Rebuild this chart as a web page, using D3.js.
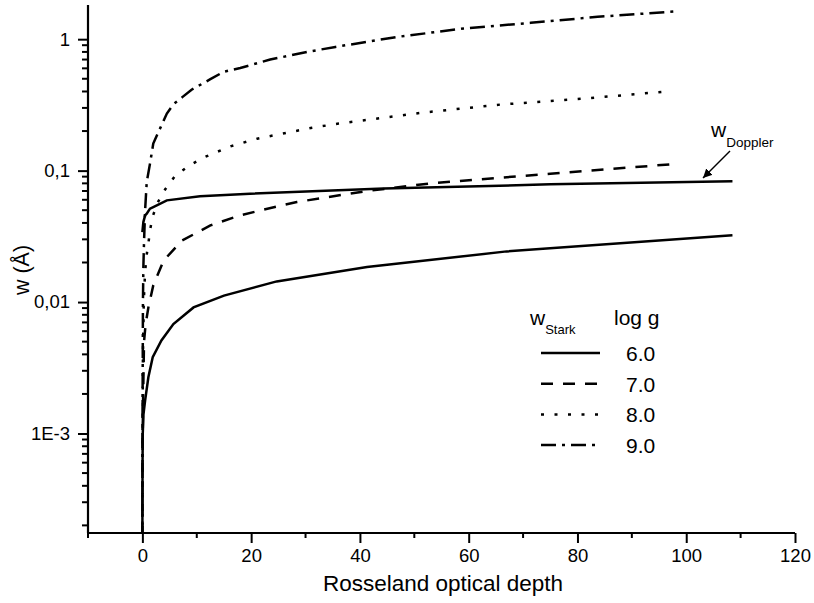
<!DOCTYPE html>
<html>
<head>
<meta charset="utf-8">
<script src="https://cdn.jsdelivr.net/npm/d3@7"></script>
<style>
  body { margin: 0; background: #fff; }
  svg { font-family: "Liberation Sans", Arial, sans-serif; }
  .line { fill: none; stroke: #000; stroke-width: 2.5; stroke-linecap: butt; }
</style>
</head>
<body>
<div class="container"></div>
<script>
// optical depth grid and widths
const tau60 = [0, 0.01, 0.03, 0.07, 0.2, 0.5, 1.1, 1.9, 3.5, 5.7, 9.4, 15, 24.7, 41.3, 67, 108.5];
const w60 = [1.6e-4, 3e-4, 6e-4, 0.001, 0.0014, 0.00178, 0.00268, 0.0038, 0.0051, 0.0068, 0.0091, 0.0112, 0.01436, 0.01845, 0.0243, 0.0322];

const tau70 = [0, 0.03, 0.1, 0.3, 0.6, 1.1, 2.0, 3.9, 7.3, 12.5, 18, 22.3, 28.4, 41.3, 53.5, 75, 97.2];
const w70 = [1.6e-4, 6e-4, 0.0015, 0.005, 0.0068, 0.0091, 0.0134, 0.0207, 0.0294, 0.0383, 0.0457, 0.0505, 0.0577, 0.070, 0.0805, 0.0948, 0.1117];

const tau80 = [0, 0.03, 0.1, 0.25, 0.5, 0.8, 1.1, 1.4, 1.9, 2.8, 4.2, 6.0, 8.7, 11.2, 16.2, 21.1, 31.2, 36.1, 51.1, 65.8, 81.2, 96.3];
const w80 = [1.6e-4, 1e-3, 0.004, 0.01, 0.017, 0.023, 0.0278, 0.0351, 0.0449, 0.0571, 0.0721, 0.091, 0.1097, 0.1256, 0.153, 0.175, 0.212, 0.228, 0.275, 0.318, 0.353, 0.400];

const tau90 = [0, 0.02, 0.07, 0.1, 0.18, 0.31, 0.5, 0.8, 1.4, 2.0, 3.6, 4.5, 5.7, 7.4, 9.1, 12.5, 14.9, 18, 23.5, 30.3, 35.5, 46.9, 59.1, 71.4, 83.7, 98.7];
const w90 = [1.6e-4, 0.0012, 0.00406, 0.0097, 0.0184, 0.0294, 0.0499, 0.0819, 0.113, 0.1606, 0.2255, 0.2717, 0.32, 0.364, 0.414, 0.496, 0.564, 0.604, 0.700, 0.800, 0.873, 1.041, 1.206, 1.331, 1.479, 1.634];

const tauDop = [0, 0.18, 0.5, 0.8, 1.4, 2.0, 4.5, 10.6, 19.8, 44.4, 75, 108.5];
const wDop = [0.034, 0.0406, 0.0457, 0.047, 0.0514, 0.0528, 0.0594, 0.0637, 0.0668, 0.073, 0.0786, 0.0829];

const logg = ['6.0', '7.0', '8.0', '9.0'];
const xTicks = [0, 20, 40, 60, 80, 100, 120];
const yTicks = [1, 0.1, 0.01, 0.001];
const yTickLabels = ['1', '0,1', '0,01', '1E-3'];

const W = 814, H = 603;
const x = d3.scaleLinear().domain([-10, 120]).range([88, 795]);
const y = d3.scaleLog().domain([1.75e-4, 1.82]).range([533, 5]);

const svg = d3.select('.container').append('svg')
  .attr('width', W)
  .attr('height', H);

svg.append('defs').append('clipPath').attr('id', 'plot')
  .append('rect')
  .attr('x', 88).attr('y', 5)
  .attr('width', 795 - 88).attr('height', 528);

// dash styles for each log g
const dashes = [null, '12,10', '3,10.5', '15,6,3,6'];
const series = [
  { t: tau60, w: w60 },
  { t: tau70, w: w70 },
  { t: tau80, w: w80 },
  { t: tau90, w: w90 },
];

const line = d3.line()
  .x(d => x(d[0]))
  .y(d => y(d[1]));

const g = svg.append('g').attr('clip-path', 'url(#plot)');

series.forEach((s, i) => {
  g.append('path')
    .datum(d3.zip(s.t, s.w))
    .attr('class', 'line')
    .attr('stroke-dasharray', dashes[i])
    .attr('d', line);
});

g.append('path')
  .datum(d3.zip(tauDop, wDop))
  .attr('class', 'line')
  .attr('d', line);

// x axis
const xMinor = d3.range(-10, 121, 10).filter(v => !xTicks.includes(v));
const xAxis = svg.append('g').attr('transform', `translate(0,${533})`);
xAxis.call(d3.axisBottom(x).tickValues(xTicks).tickSize(10).tickPadding(6).tickSizeOuter(0));
xMinor.forEach(v => {
  xAxis.append('line')
    .attr('x1', x(v)).attr('x2', x(v))
    .attr('y1', 0).attr('y2', 5)
    .attr('stroke', '#000').attr('stroke-width', 2);
});

// y axis
const yMinor = [];
[1e-4, 1e-3, 1e-2, 1e-1].forEach(dec => {
  for (let k = 2; k <= 9; k++) {
    const v = dec * k;
    if (v >= 1.75e-4 && v <= 1.82) yMinor.push(v);
  }
});
const yAxis = svg.append('g').attr('transform', `translate(${88},0)`);
yAxis.call(d3.axisLeft(y).tickValues(yTicks).tickSize(10).tickPadding(8).tickSizeOuter(0)
  .tickFormat((d, i) => yTickLabels[i]));
yMinor.forEach(v => {
  yAxis.append('line')
    .attr('x1', -6).attr('x2', 0)
    .attr('y1', y(v)).attr('y2', y(v))
    .attr('stroke', '#000').attr('stroke-width', 2);
});

svg.selectAll('.domain').attr('stroke-width', 2.2);
svg.selectAll('.tick line').attr('stroke-width', 2);
svg.selectAll('.tick text').attr('font-size', 18.5).attr('fill', '#000');
xAxis.selectAll('.domain').attr('d', `M${x(-10)},0H${x(120)}`);
yAxis.selectAll('.domain').attr('d', `M0,${y(1.75e-4)}V${y(1.82)}`);

// axis titles
svg.append('text')
  .attr('x', 443).attr('y', 591)
  .attr('text-anchor', 'middle')
  .attr('font-size', 22.5)
  .text('Rosseland optical depth');

svg.append('text')
  .attr('transform', 'translate(29,270) rotate(-90)')
  .attr('text-anchor', 'middle')
  .attr('font-size', 21.5)
  .text('w (Å)');

// legend
const leg = svg.append('g');
const wStark = leg.append('text').attr('x', 530).attr('y', 325).attr('font-size', 21);
wStark.append('tspan').text('w');
wStark.append('tspan').attr('font-size', 13).attr('dy', 9).text('Stark');
leg.append('text').attr('x', 614).attr('y', 325).attr('font-size', 21).text('log g');

logg.forEach((lab, i) => {
  const ly = 353 + i * 30.7;
  leg.append('line')
    .attr('class', 'line')
    .attr('x1', 541).attr('x2', 600)
    .attr('y1', ly).attr('y2', ly)
    .attr('stroke-dasharray', dashes[i]);
  leg.append('text')
    .attr('x', 626).attr('y', ly + 8)
    .attr('font-size', 21)
    .text(lab);
});

// w Doppler annotation
const dop = svg.append('text').attr('x', 711).attr('y', 137).attr('font-size', 21);
dop.append('tspan').text('w');
dop.append('tspan').attr('font-size', 13.5).attr('dy', 10).text('Doppler');

svg.select('defs').append('marker')
  .attr('id', 'arrow')
  .attr('viewBox', '0 0 10 10')
  .attr('refX', 10).attr('refY', 5)
  .attr('markerWidth', 9).attr('markerHeight', 9)
  .attr('markerUnits', 'userSpaceOnUse')
  .attr('orient', 'auto')
  .append('path')
  .attr('d', 'M0,0L10,5L0,10Z')
  .attr('fill', '#000');

svg.append('line')
  .attr('x1', 730).attr('y1', 151)
  .attr('x2', 703).attr('y2', 178)
  .attr('stroke', '#000').attr('stroke-width', 1.5)
  .attr('marker-end', 'url(#arrow)');
</script>
</body>
</html>
